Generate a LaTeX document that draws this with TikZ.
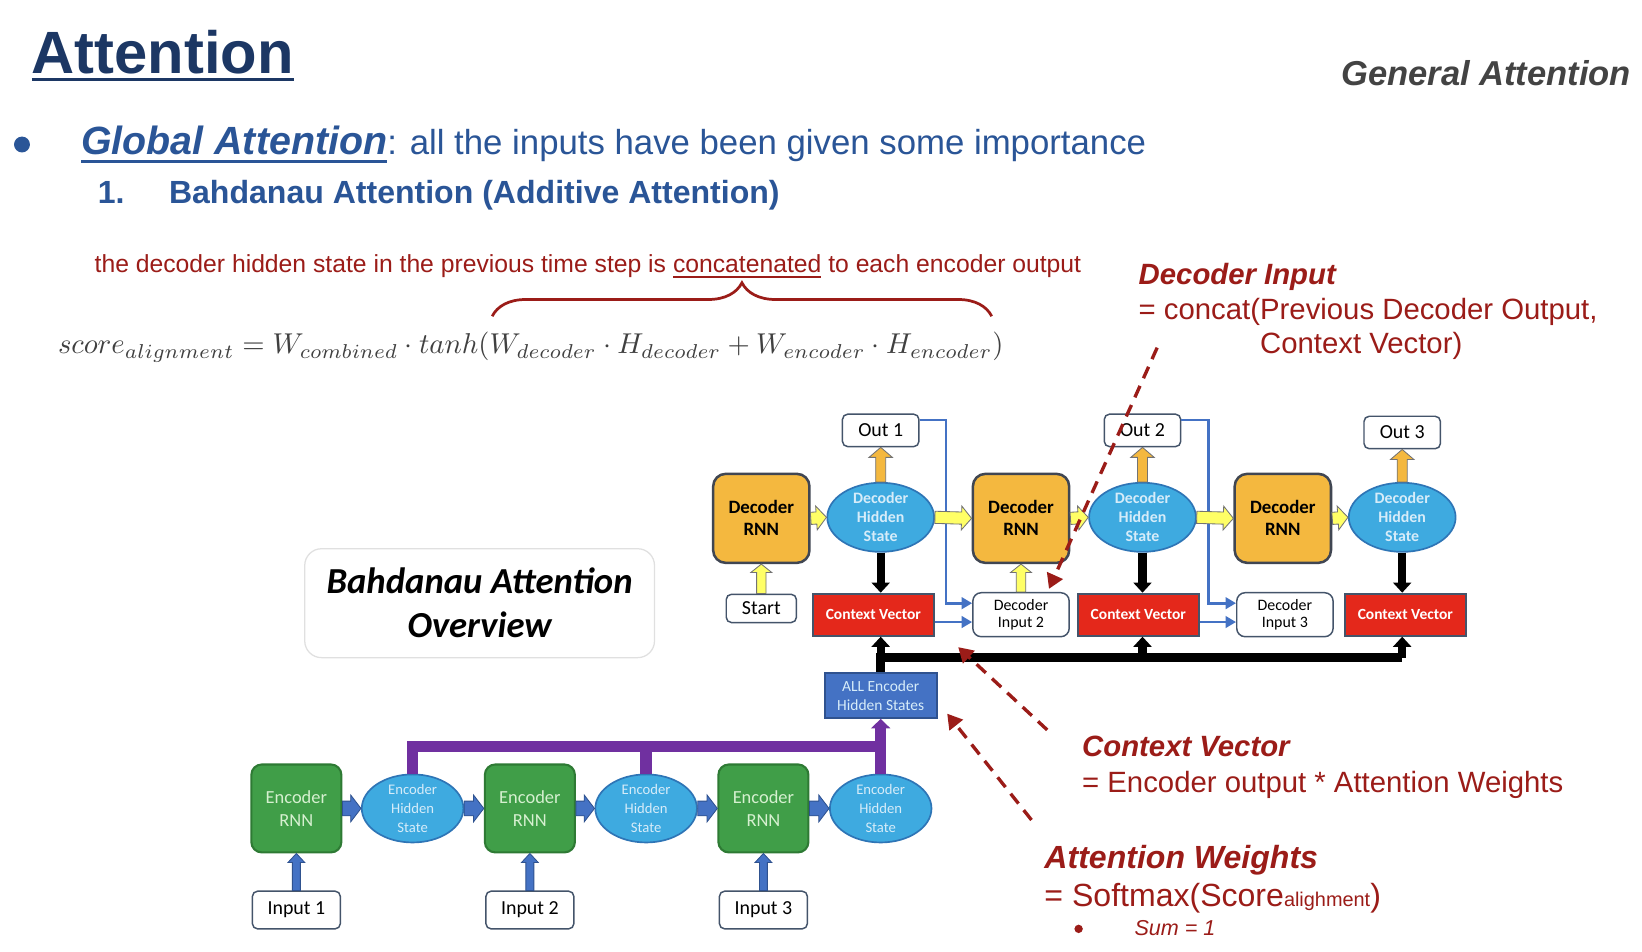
\documentclass[tikz,border=0pt]{standalone}
\usepackage{fontspec}
\setmainfont{Liberation Sans}
\newfontfamily\diagfont{Carlito}
\usetikzlibrary{arrows.meta, calc, positioning, shapes.geometric, decorations.pathreplacing}

\definecolor{titlenavy}{RGB}{28,55,100}
\definecolor{textblue}{RGB}{42,85,151}
\definecolor{headgrey}{RGB}{67,67,67}
\definecolor{annot}{RGB}{155,28,24}
\definecolor{decorange}{RGB}{244,184,63}
\definecolor{stateblue}{RGB}{62,170,224}
\definecolor{stateedge}{RGB}{46,117,182}
\definecolor{statetext}{RGB}{214,236,249}
\definecolor{ctxred}{RGB}{228,40,27}
\definecolor{slate}{RGB}{68,84,106}
\definecolor{arrowyellow}{RGB}{255,255,102}
\definecolor{encgreen}{RGB}{64,158,72}
\definecolor{encedge}{RGB}{46,122,52}
\definecolor{enctext}{RGB}{214,240,208}
\definecolor{linkblue}{RGB}{68,114,196}
\definecolor{linkedge}{RGB}{47,82,143}
\definecolor{busviolet}{RGB}{112,48,160}
\definecolor{boxedge}{RGB}{64,70,82}

% text with a rule under it: depth, thickness, text
\newcommand{\lineunder}[3]{\setbox0\hbox{#3}\rlap{\rule[-#1]{\wd0}{#2}}\box0\relax}
% outlined block arrow from #2 to #3, sizes \bsw, \bhw, \bhl come from the style #1
\newcommand{\blockarrow}[3]{%
  \filldraw[#1] ($(#2)!\bsw!90:(#3)$) -- ($(#3)!\bhl!(#2)!\bsw!90:(#3)$)
    -- ($(#3)!\bhl!(#2)!\bhw!90:(#3)$) -- (#3) -- ($(#3)!\bhl!(#2)!\bhw!-90:(#3)$)
    -- ($(#3)!\bhl!(#2)!\bsw!-90:(#3)$) -- ($(#2)!\bsw!-90:(#3)$) -- cycle;}

\begin{document}
\begin{tikzpicture}[
  x=0.5pt, y=-0.5pt,
  textline/.style={anchor=base west, inner sep=0pt},
  annotext/.style={textline, text=annot, font=\fontsize{14}{16}\selectfont},
  annohead/.style={textline, text=annot, font=\fontsize{14}{16}\selectfont\bfseries\itshape},
  rnn/.style={draw=boxedge, line width=1.2pt, rounded corners=6pt, fill=decorange, minimum width=46pt, minimum height=42.5pt, inner sep=0pt, align=center, font=\diagfont\fontsize{9}{10.5}\selectfont\bfseries},
  state/.style={ellipse, draw=stateedge, line width=0.8pt, fill=stateblue, minimum width=51pt, minimum height=33pt, inner sep=-3pt, align=center, text=statetext, font=\diagfont\fontsize{7.6}{9}\selectfont\bfseries},
  ctx/.style={draw=slate, line width=1pt, fill=ctxred, minimum width=58pt, minimum height=20pt, inner sep=0pt, text=white, font=\diagfont\fontsize{7.4}{8}\selectfont\bfseries},
  io/.style={draw=slate, line width=0.7pt, rounded corners=2.5pt, fill=white, minimum width=36.5pt, minimum height=15.5pt, inner sep=0pt, font=\diagfont\fontsize{9.5}{11}\selectfont},
  dinput/.style={io, minimum width=46pt, minimum height=21pt, rounded corners=4pt, align=center, font=\diagfont\fontsize{7.6}{8.5}\selectfont},
  inbox/.style={io, minimum width=42pt, minimum height=18pt},
  encrnn/.style={draw=encedge, line width=1pt, rounded corners=5pt, fill=encgreen, minimum width=43pt, minimum height=42pt, inner sep=0pt, align=center, text=enctext, font=\diagfont\fontsize{8.8}{11}\selectfont},
  encstate/.style={state, minimum width=48.5pt, minimum height=32.5pt, font=\diagfont\fontsize{7}{9}\selectfont},
  allstates/.style={draw=linkedge, line width=1pt, fill=linkblue, minimum width=53.5pt, minimum height=21.5pt, inner sep=0pt, align=center, text=statetext, font=\diagfont\fontsize{7.4}{9}\selectfont},
  overview/.style={draw=black!12, line width=0.6pt, rounded corners=8pt, minimum width=167pt, minimum height=52pt, align=center, font=\diagfont\fontsize{17.5}{21}\selectfont\bfseries\itshape},
  yarr/.style={fill=arrowyellow, draw=black!55, line width=0.4pt, /utils/exec={\def\bsw{2.9pt}\def\bhw{5.7pt}\def\bhl{4.8pt}}},
  yarrup/.style={yarr, /utils/exec={\def\bsw{2.25pt}\def\bhw{5pt}\def\bhl{4pt}}},
  oarr/.style={fill=decorange, draw=black!55, line width=0.4pt, /utils/exec={\def\bsw{2.4pt}\def\bhw{5.6pt}\def\bhl{4.8pt}}},
  barr/.style={fill=linkblue, draw=linkedge, line width=0.4pt, /utils/exec={\def\bsw{3.5pt}\def\bhw{6.4pt}\def\bhl{4.9pt}}},
  barrup/.style={barr, /utils/exec={\def\bsw{1.9pt}\def\bhw{4pt}\def\bhl{4.3pt}}},
  karrow/.style={draw=black, line width=4pt, -{Triangle[length=4.8pt, width=8.5pt]}},
  bus/.style={draw=black, line width=4.5pt},
  pbus/.style={draw=busviolet, line width=5.5pt},
  link/.style={draw=linkblue, line width=1.3pt, -{Triangle[length=5pt, width=5.5pt]}},
  dasharrow/.style={draw=annot, line width=1.6pt, dash pattern=on 6pt off 4pt, -{Triangle[length=7pt, width=8pt]}}
  ]
  \path[use as bounding box, fill=white] (0,0) rectangle (1568,909);

  % headings
  \node[textline, text=titlenavy, font=\fontsize{28.5}{30}\selectfont\bfseries] (title) at (30,70) {\lineunder{3.8pt}{1.6pt}{Attention}};
  \node[anchor=base east, inner sep=0pt, text=headgrey, font=\fontsize{16.5}{18}\selectfont\bfseries\itshape] (general) at (1558,82) {General Attention};
  \fill[textblue] (21,138) circle (3.8pt);
  \node[textline, text=textblue] (global) at (77,148) {\fontsize{18.8}{20}\selectfont\bfseries\itshape\lineunder{3.6pt}{1.2pt}{Global Attention}\normalfont\fontsize{16.6}{18}\selectfont: all the inputs have been given some importance};
  \node[textline, text=textblue, font=\fontsize{15.3}{17}\selectfont\bfseries] (num) at (93,194) {1.};
  \node[textline, text=textblue, font=\fontsize{15.3}{17}\selectfont\bfseries] (bahdanau) at (161,194) {Bahdanau Attention (Additive Attention)};
  \node[textline, text=annot, font=\fontsize{11.8}{14}\selectfont] (concat) at (90,260) {the decoder hidden state in the previous time step is \lineunder{2.6pt}{0.8pt}{concatenated} to each encoder output};
  \draw[annot, line width=1.3pt, decorate, decoration={brace, amplitude=16pt}] (470,302) -- (947,302);
  \node[textline, text=black!75] (score) at (55,338) {\scalebox{1.37}{$score_{alignment} = W_{combined}\cdot tanh(W_{decoder}\cdot H_{decoder} + W_{encoder}\cdot H_{encoder})$}};
  \node[overview] (overview) at (458,576) {Bahdanau Attention\\Overview};

  % decoder
  \node[rnn] (drnn1) at (727,495) {Decoder\\RNN};
  \node[state] (dhs1) at (841,494) {Decoder\\Hidden\\State};
  \node[io] (out1) at (841,411) {Out 1};
  \node[io, minimum width=33.5pt, minimum height=13.5pt] (start) at (727,581) {Start};
  \node[ctx] (cv1) at (834,587) {Context Vector};
  \node[dinput] (di2) at (975,587) {Decoder\\Input 2};
  \node[rnn] (drnn2) at (975,495) {Decoder\\RNN};
  \node[state] (dhs2) at (1091,494) {Decoder\\Hidden\\State};
  \node[io] (out2) at (1091,411) {Out 2};
  \node[ctx] (cv2) at (1087,587) {Context Vector};
  \node[dinput] (di3) at (1227,587) {Decoder\\Input 3};
  \node[rnn] (drnn3) at (1225,495) {Decoder\\RNN};
  \node[state] (dhs3) at (1339,494) {Decoder\\Hidden\\State};
  \node[io] (out3) at (1339,413) {Out 3};
  \node[ctx] (cv3) at (1342,587) {Context Vector};
  \node[allstates] (allenc) at (841,664) {ALL Encoder\\Hidden States};

  % encoder
  \node[encrnn] (ernn1) at (283,772) {Encoder\\RNN};
  \node[encstate] (ehs1) at (394,772) {Encoder\\Hidden\\State};
  \node[encrnn] (ernn2) at (506,772) {Encoder\\RNN};
  \node[encstate] (ehs2) at (617,772) {Encoder\\Hidden\\State};
  \node[encrnn] (ernn3) at (729,772) {Encoder\\RNN};
  \node[encstate] (ehs3) at (841,772) {Encoder\\Hidden\\State};
  \node[inbox] (in1) at (283,869) {Input 1};
  \node[inbox] (in2) at (506,869) {Input 2};
  \node[inbox] (in3) at (729,869) {Input 3};

  % decoder inputs fed back
  \coordinate (j1) at ($(out1.east)!0.5!(di2.west)$);
  \coordinate (j2) at ($(out2.east)!0.5!(di3.west)$);
  \draw[link] ([yshift=5pt]out1.east) -| (j1) |- ([yshift=5.5pt]di2.west);
  \draw[link] ([yshift=-3.5pt]cv1.east) -- ([yshift=-3.5pt]di2.west);
  \draw[link] ([yshift=5pt]out2.east) -| (j2) |- ([yshift=5.5pt]di3.west);
  \draw[link] ([yshift=-3.5pt]cv2.east) -- ([yshift=-3.5pt]di3.west);

  % block arrows
  \blockarrow{yarrup}{start.north}{drnn1.south}
  \blockarrow{yarr}{drnn1.east}{dhs1.west}
  \blockarrow{oarr}{dhs1.north}{out1.south}
  \blockarrow{yarr}{dhs1.east}{drnn2.west}
  \blockarrow{yarrup}{di2.north}{drnn2.south}
  \blockarrow{yarr}{drnn2.east}{dhs2.west}
  \blockarrow{oarr}{dhs2.north}{out2.south}
  \blockarrow{yarr}{dhs2.east}{drnn3.west}
  \blockarrow{yarr}{drnn3.east}{dhs3.west}
  \blockarrow{oarr}{dhs3.north}{out3.south}
  \blockarrow{barr}{ernn1.east}{ehs1.west}
  \blockarrow{barr}{ehs1.east}{ernn2.west}
  \blockarrow{barr}{ernn2.east}{ehs2.west}
  \blockarrow{barr}{ehs2.east}{ernn3.west}
  \blockarrow{barr}{ernn3.east}{ehs3.west}
  \blockarrow{barrup}{in1.north}{ernn1.south}
  \blockarrow{barrup}{in2.north}{ernn2.south}
  \blockarrow{barrup}{in3.north}{ernn3.south}

  % hidden states to context vectors
  \draw[karrow] (dhs1.south) -- (dhs1.south |- cv1.north);
  \draw[karrow] (dhs2.south) -- (dhs2.south |- cv2.north);
  \draw[karrow] (dhs3.south) -- (dhs3.south |- cv3.north);
  \coordinate (busL) at (841,628);
  \coordinate (busR) at (1339,628);
  \draw[bus] (allenc.north) |- (busR);
  \draw[karrow] (busL) -- (dhs1 |- cv1.south);
  \draw[karrow] (dhs2 |- busL) -- (dhs2 |- cv2.south);
  \draw[karrow] (busR) -- (dhs3 |- cv3.south);

  % encoder states collected
  \coordinate (pbusR) at (841,713);
  \draw[pbus] (ehs1.north) |- (pbusR);
  \draw[pbus] (ehs2.north) -- (ehs2.north |- pbusR);
  \draw[pbus, -{Triangle[length=4.5pt, width=9pt]}] (ehs3.north) -- (allenc.south);

  % notes
  \node[annohead] (diTitle) at (1087,272) {Decoder Input};
  \node[annotext] (diDef) at (1087,305) {= concat(Previous Decoder Output,};
  \node[annotext] (diDefB) at (1203,338) {Context Vector)};
  \node[annohead] (cvTitle) at (1033,722) {Context Vector};
  \node[annotext] (cvDef) at (1033,757) {= Encoder output * Attention Weights};
  \node[annohead, font=\fontsize{15.3}{17}\selectfont\bfseries\itshape] (awTitle) at (997,829) {Attention Weights};
  \node[annotext, font=\fontsize{15.3}{17}\selectfont] (awDef) at (997,866) {= Softmax(Score{\fontsize{9.5}{10}\selectfont alighment})};
  \fill[annot] (1030,887) circle (2pt);
  \node[annotext, font=\fontsize{10.3}{12}\selectfont\itshape] (awSum) at (1083,893) {Sum = 1};

  \coordinate (noteDI) at (1105,332);
  \coordinate (noteCV) at (1000,697);
  \coordinate (noteAW) at (985,783);
  \draw[dasharrow] (noteDI) -- ([xshift=-10pt, yshift=1.5pt]di2.north east);
  \draw[dasharrow] (noteCV) -- ([xshift=11pt, yshift=-5pt]cv1.south east);
  \draw[dasharrow] (noteAW) -- ([xshift=4.5pt, yshift=2.5pt]allenc.south east);
\end{tikzpicture}
\end{document}
